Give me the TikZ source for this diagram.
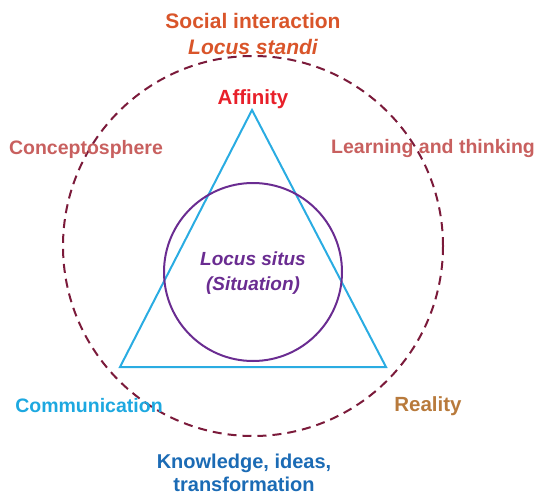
\documentclass[tikz,border=0pt]{standalone}
\usepackage{fontspec}
\setmainfont{Liberation Sans}
\definecolor{socialc}{HTML}{D9552A}
\definecolor{affc}{HTML}{E8202A}
\definecolor{rosec}{HTML}{C8605F}
\definecolor{purpc}{HTML}{6A2C91}
\definecolor{commc}{HTML}{1DA8E0}
\definecolor{realc}{HTML}{B87A3C}
\definecolor{knowc}{HTML}{1B6BB5}
\definecolor{dashc}{HTML}{7B1A3A}
\definecolor{tric}{HTML}{2AACE2}
\newcommand{\lblsize}[2]{\fontsize{#1}{#2}\selectfont}
\begin{document}
\begin{tikzpicture}[x=1pt,y=-1pt,
  lbl/.style={font=\bfseries\lblsize{19.5}{24}, align=center, inner sep=0pt}]
\useasboundingbox (0,0) rectangle (535,495);
% outer dashed circle
\draw[dashc, line width=2pt, dash pattern=on 9pt off 6pt] (253,246) circle (190);
% triangle
\coordinate (apex) at (252,110);
\coordinate (bl) at (120,367);
\coordinate (br) at (386,367);
\draw[tric, line width=2pt, line join=miter] (apex) -- (bl) -- (br) -- cycle;
% inner circle
\draw[purpc, line width=2pt] (253,272) circle (89);
% labels
\node[lbl, text=socialc, font=\bfseries\lblsize{21}{26}] (social) at (253,34) {Social interaction\\\itshape Locus standi};
\node[lbl, text=affc, font=\bfseries\lblsize{20.5}{24}] (aff) at (253,99) {Affinity};
\node[lbl, text=rosec] (concept) at (86,149) {Conceptosphere};
\node[lbl, text=rosec] (learn) at (433,149) {Learning and thinking};
\node[lbl, text=purpc, font=\bfseries\itshape\lblsize{19}{25}] (situs) at (253,273) {Locus situs\\(Situation)};
\node[lbl, text=commc] (comm) at (89,406) {Communication};
\node[lbl, text=realc, font=\bfseries\lblsize{20.5}{24}] (real) at (428,406) {Reality};
\node[lbl, text=knowc, font=\bfseries\lblsize{20}{23}] (know) at (244,473) {Knowledge, ideas,\\transformation};
\end{tikzpicture}
\end{document}
